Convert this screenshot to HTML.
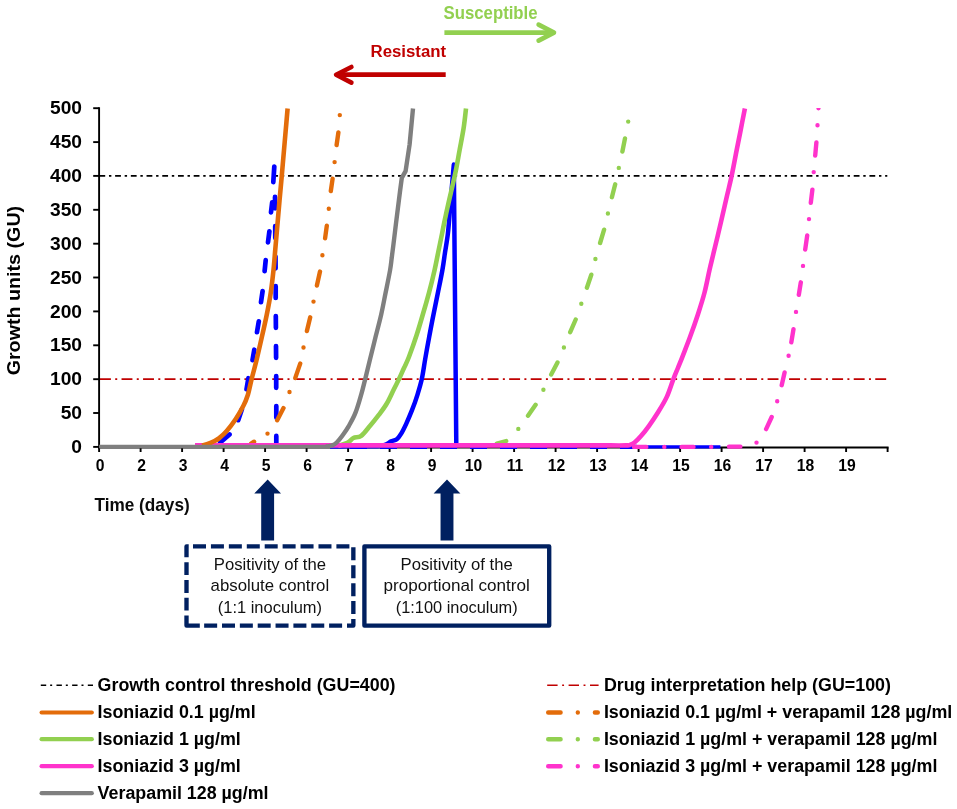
<!DOCTYPE html>
<html lang="en"><head><meta charset="utf-8"><title>Growth units over time</title>
<style>html,body{margin:0;padding:0;background:#fff}body{width:957px;height:809px;overflow:hidden}svg{display:block}text{font-family:'Liberation Sans', Arial, Helvetica, sans-serif}</style></head><body>
<svg width="957" height="809" viewBox="0 0 957 809">
<rect width="957" height="809" fill="#fff"/>
<g fill="none" stroke-linecap="round" stroke-linejoin="round">
<path d="M444.4 32.6 H553" stroke="#92d050" stroke-width="4.7" stroke-linecap="butt"/>
<path d="M538.6 24.6 L554.0 32.6 L538.6 40.6" stroke="#92d050" stroke-width="4.6"/>
<path d="M445.7 74.7 H337" stroke="#c00000" stroke-width="4.7" stroke-linecap="butt"/>
<path d="M351.4 67.0 L336.1 74.7 L351.4 82.6" stroke="#c00000" stroke-width="4.6"/>
</g>
<text x="443.5" y="19.2" font-size="17.8" font-weight="700" fill="#92d050" textLength="94.1" lengthAdjust="spacingAndGlyphs">Susceptible</text>
<text x="370.5" y="56.8" font-size="17.2" font-weight="700" fill="#c00000" textLength="75.6" lengthAdjust="spacingAndGlyphs">Resistant</text>
<path d="M99.4 175.9 H887.3" stroke="#000" stroke-width="1.9" stroke-dasharray="5.8 3.76 2.4 3.755" fill="none"/>
<path d="M100 379.2 H887.3" stroke="#c00000" stroke-width="1.7" stroke-dasharray="10.9 4.32 2.0 4.315" fill="none"/>
<g stroke="#000" stroke-width="1.9" fill="none">
<path d="M99.1 107.3 V448.4"/>
<path d="M98.3 447.5 H888.6"/>
<path d="M93.2 446.9 H99.1"/>
<path d="M93.2 413.0 H99.1"/>
<path d="M93.2 379.2 H99.1"/>
<path d="M93.2 345.3 H99.1"/>
<path d="M93.2 311.4 H99.1"/>
<path d="M93.2 277.5 H99.1"/>
<path d="M93.2 243.7 H99.1"/>
<path d="M93.2 209.8 H99.1"/>
<path d="M93.2 175.9 H99.1"/>
<path d="M93.2 142.1 H99.1"/>
<path d="M93.2 108.2 H99.1"/>
<path d="M99.1 447.5 V452"/>
<path d="M140.6 447.5 V452"/>
<path d="M182.1 447.5 V452"/>
<path d="M223.6 447.5 V452"/>
<path d="M265.1 447.5 V452"/>
<path d="M306.6 447.5 V452"/>
<path d="M348.1 447.5 V452"/>
<path d="M389.6 447.5 V452"/>
<path d="M431.1 447.5 V452"/>
<path d="M472.6 447.5 V452"/>
<path d="M514.1 447.5 V452"/>
<path d="M555.6 447.5 V452"/>
<path d="M597.1 447.5 V452"/>
<path d="M638.6 447.5 V452"/>
<path d="M680.1 447.5 V452"/>
<path d="M721.6 447.5 V452"/>
<path d="M763.1 447.5 V452"/>
<path d="M804.6 447.5 V452"/>
<path d="M846.1 447.5 V452"/>
<path d="M887.6 447.5 V452"/>
</g>
<g font-size="19.2" font-weight="700" fill="#000">
<text x="82.0" y="453.0" text-anchor="end">0</text>
<text x="82.0" y="419.2" text-anchor="end">50</text>
<text x="82.0" y="385.3" text-anchor="end">100</text>
<text x="82.0" y="351.4" text-anchor="end">150</text>
<text x="82.0" y="317.6" text-anchor="end">200</text>
<text x="82.0" y="283.7" text-anchor="end">250</text>
<text x="82.0" y="249.8" text-anchor="end">300</text>
<text x="82.0" y="216.0" text-anchor="end">350</text>
<text x="82.0" y="182.1" text-anchor="end">400</text>
<text x="82.0" y="148.2" text-anchor="end">450</text>
<text x="82.0" y="114.3" text-anchor="end">500</text>
</g>
<g font-size="15.7" font-weight="700" fill="#000">
<text x="100.0" y="471.2" text-anchor="middle">0</text>
<text x="141.5" y="471.2" text-anchor="middle">2</text>
<text x="183.0" y="471.2" text-anchor="middle">3</text>
<text x="224.5" y="471.2" text-anchor="middle">4</text>
<text x="266.0" y="471.2" text-anchor="middle">5</text>
<text x="307.5" y="471.2" text-anchor="middle">6</text>
<text x="349.0" y="471.2" text-anchor="middle">7</text>
<text x="390.5" y="471.2" text-anchor="middle">8</text>
<text x="432.0" y="471.2" text-anchor="middle">9</text>
<text x="473.5" y="471.2" text-anchor="middle">10</text>
<text x="515.0" y="471.2" text-anchor="middle">11</text>
<text x="556.5" y="471.2" text-anchor="middle">12</text>
<text x="598.0" y="471.2" text-anchor="middle">13</text>
<text x="639.5" y="471.2" text-anchor="middle">14</text>
<text x="681.0" y="471.2" text-anchor="middle">15</text>
<text x="722.5" y="471.2" text-anchor="middle">16</text>
<text x="764.0" y="471.2" text-anchor="middle">17</text>
<text x="805.5" y="471.2" text-anchor="middle">18</text>
<text x="847.0" y="471.2" text-anchor="middle">19</text>
</g>
<text transform="translate(19.9 290.6) rotate(-90)" font-size="19.2" font-weight="700" fill="#000" text-anchor="middle" textLength="169.5" lengthAdjust="spacingAndGlyphs">Growth units (GU)</text>
<text x="94.5" y="510.7" font-size="18.4" font-weight="700" fill="#0a0a0a" textLength="95.2" lengthAdjust="spacingAndGlyphs">Time (days)</text>
<path d="M350.0 446.9 h17 M380.0 446.9 h17 M410.0 446.9 h17 M440.0 446.9 h17 M470.0 446.9 h17 M500.0 446.9 h17 M530.0 446.9 h17 M560.0 446.9 h17 M590.0 446.9 h17 M620.0 446.9 h17" fill="none" stroke="#0000ff" stroke-width="4.2"/>
<path d="M220.2 442.5 L229.5 434.4 M238.2 420.2 L241.9 409.2 M246.5 389.3 L248.4 378.2 M252.5 360.1 L254.3 349.7 M257.0 332.2 L258.8 321.3 M261.0 302.2 L262.6 291.2 M264.6 271.2 L265.7 260.2 M268.0 242.3 L269.4 231.4 M271.0 212.3 L272.2 202.4 M273.3 182.2 L274.3 166.5 M275.0 196.9 L275.1 208.3 M275.2 226.2 L275.3 238.0 M275.5 256.5 L275.6 268.3 M275.7 286.2 L275.7 297.9 M275.8 316.0 L275.9 327.8 M276.0 346.0 L276.1 357.8 M276.2 376.1 L276.2 387.8 M276.3 406.1 L276.3 417.6 M276.3 435.9 L276.3 444.8" fill="none" stroke="#0000ff" stroke-width="4.7" stroke-linecap="round"/>
<path d="M631 446.9 H720.4" fill="none" stroke="#0000ff" stroke-width="3.4"/>
<path d="M330.0 446.5 C332.8 446.5 341.1 446.4 346.7 446.3 C352.2 446.3 357.8 446.2 363.3 446.2 C368.9 446.1 376.1 446.4 380.0 446.0 C383.9 445.6 384.9 444.8 386.8 444.0 C388.7 443.2 389.5 442.2 391.2 441.4 C392.9 440.6 395.1 440.5 396.8 439.2 C398.5 437.9 399.6 436.2 401.2 433.6 C402.8 431.0 404.5 427.5 406.3 423.6 C408.1 419.7 410.1 415.0 412.0 410.2 C413.9 405.4 415.9 399.8 417.5 394.6 C419.1 389.4 420.5 385.0 421.8 379.1 C423.1 373.2 424.0 366.1 425.2 359.0 C426.4 351.9 427.8 344.2 429.2 336.8 C430.6 329.4 432.0 321.9 433.5 314.5 C435.0 307.1 436.5 299.7 438.0 292.3 C439.5 284.9 441.2 276.8 442.4 270.0 C443.6 263.2 444.2 257.9 445.1 251.8 C446.1 245.7 447.1 240.5 447.9 233.6 C448.7 226.7 449.2 218.3 449.9 210.6 C450.5 202.9 451.2 195.3 451.8 187.6 C452.5 179.9 453.5 168.4 453.8 164.6 L456.3 446" fill="none" stroke="#0000ff" stroke-width="4.5" stroke-linejoin="round" stroke-linecap="butt"/>
<clipPath id="plot"><rect x="90" y="108" width="810" height="345"/></clipPath>
<path clip-path="url(#plot)" d="M251.1 443.7 L254.1 441.7 M277.2 420.2 L283.5 408.1 M295.3 377.9 L300.2 363.6 M306.9 331.1 L310.2 317.3 M316.9 285.5 L320.0 271.6 M325.1 238.3 L326.8 225.8 M330.8 191.1 L332.6 178.7 M336.6 145.1 L338.4 132.4 M267.5 433.6 h0.01 M289.5 392.0 h0.01 M303.5 347.5 h0.01 M313.5 301.6 h0.01 M322.4 255.3 h0.01 M328.8 208.8 h0.01 M334.6 162.1 h0.01 M339.8 115.1 h0.01" fill="none" stroke="#e36c0a" stroke-width="4.4" stroke-linecap="round"/>
<path clip-path="url(#plot)" d="M496.8 443.6 L506.2 441.0 M528.0 415.7 L535.6 404.8 M551.2 374.5 L557.5 362.5 M570.2 332.2 L575.7 319.5 M586.9 287.7 L591.3 274.7 M600.1 243.0 L604.1 229.7 M611.9 197.2 L615.2 184.3 M622.4 151.5 L625.0 138.4 M518.3 428.9 h0.01 M543.4 389.8 h0.01 M563.9 347.5 h0.01 M581.3 303.8 h0.01 M595.4 259.0 h0.01 M607.9 213.5 h0.01 M618.8 167.9 h0.01 M628.2 121.6 h0.01" fill="none" stroke="#92d050" stroke-width="4.4" stroke-linecap="round"/>
<path clip-path="url(#plot)" d="M634.0 446.9 L646.3 446.9 M681.6 446.9 L693.5 446.9 M729.0 446.6 L740.4 446.6 M766.1 429.1 L771.7 417.0 M781.7 385.2 L784.6 372.5 M791.3 342.3 L793.5 329.1 M798.8 294.8 L800.8 282.3 M805.2 249.5 L807.2 235.5 M810.8 202.7 L812.4 189.6 M815.2 155.6 L816.4 142.4 M818.5 108.2 L818.8 102.1 M664.3 446.9 h0.01 M711.2 446.9 h0.01 M756.5 442.6 h0.01 M777.2 401.3 h0.01 M788.6 355.7 h0.01 M796.0 311.9 h0.01 M803.0 265.9 h0.01 M809.0 219.1 h0.01 M813.7 172.1 h0.01 M817.5 125.2 h0.01" fill="none" stroke="#ff33cc" stroke-width="4.4" stroke-linecap="round"/>
<path d="M338.0 446.0 C339.6 445.4 345.2 443.8 347.8 442.5 C350.4 441.2 351.2 439.1 353.4 438.0 C355.6 436.9 358.4 437.8 361.2 435.8 C364.0 433.8 367.1 429.3 370.1 425.8 C373.1 422.3 376.2 418.4 379.0 414.7 C381.8 411.0 384.4 407.6 386.8 403.5 C389.2 399.4 391.4 394.3 393.4 390.2 C395.4 386.1 397.2 382.8 399.0 379.1 C400.8 375.4 402.3 371.7 404.0 368.0 C405.7 364.2 406.9 362.4 409.0 356.8 C411.1 351.2 414.5 341.6 416.8 334.5 C419.1 327.4 420.8 321.5 422.8 314.5 C424.9 307.5 427.1 299.7 429.1 292.3 C431.1 284.9 433.1 276.7 434.6 270.0 C436.1 263.3 437.1 258.0 438.3 251.9 C439.5 245.9 440.8 239.9 442.0 233.9 C443.2 227.8 444.2 222.5 445.7 215.8 C447.1 209.1 449.0 200.9 450.7 193.5 C452.4 186.1 454.2 178.4 455.7 171.2 C457.2 164.0 458.3 157.1 459.6 150.1 C460.9 143.0 462.4 135.8 463.5 128.9 C464.6 122.0 465.6 111.9 466.0 108.5" fill="none" stroke="#92d050" stroke-width="4.6" stroke-linejoin="round"/>
<path d="M195.0 445.4 C199.0 445.4 211.0 445.4 218.9 445.4 C226.9 445.4 234.9 445.4 242.9 445.4 C250.9 445.4 258.9 445.4 266.8 445.4 C274.8 445.4 282.8 445.4 290.8 445.4 C298.8 445.4 306.7 445.4 314.7 445.4 C322.7 445.4 330.7 445.4 338.7 445.4 C346.6 445.4 354.6 445.4 362.6 445.4 C370.6 445.4 378.6 445.4 386.6 445.4 C394.5 445.4 402.5 445.4 410.5 445.4 C418.5 445.4 426.5 445.4 434.4 445.4 C442.4 445.4 450.4 445.4 458.4 445.4 C466.4 445.4 474.4 445.4 482.3 445.4 C490.3 445.4 498.3 445.4 506.3 445.4 C514.3 445.4 522.2 445.4 530.2 445.4 C538.2 445.4 546.2 445.4 554.2 445.4 C562.1 445.4 570.1 445.4 578.1 445.4 C586.1 445.4 594.1 445.4 602.1 445.4 C610.0 445.4 621.3 445.5 626.0 445.4 C630.7 445.3 628.6 445.3 630.0 444.8 C631.4 444.3 632.6 444.0 634.5 442.5 C636.4 441.0 638.8 438.6 641.2 435.8 C643.6 433.0 646.2 429.7 649.0 425.8 C651.8 421.9 654.9 417.3 657.9 412.5 C660.9 407.7 664.2 402.5 666.8 396.9 C669.4 391.3 671.5 383.9 673.4 379.1 C675.2 374.3 676.4 371.7 677.9 368.0 C679.4 364.2 680.4 362.0 682.4 356.8 C684.4 351.6 687.5 343.9 690.1 336.8 C692.7 329.8 695.5 321.9 697.9 314.5 C700.3 307.1 702.7 299.7 704.6 292.3 C706.5 284.9 708.0 276.6 709.5 270.0 C711.0 263.4 712.3 258.5 713.6 252.8 C715.0 247.0 716.3 241.7 717.8 235.5 C719.3 229.3 720.9 222.3 722.4 215.7 C723.9 209.1 725.5 202.4 727.0 195.8 C728.5 189.2 730.1 183.1 731.6 176.0 C733.1 168.9 734.6 161.0 736.0 153.5 C737.5 146.0 739.0 138.5 740.5 131.0 C741.9 123.5 744.2 112.2 744.9 108.5" fill="none" stroke="#ff33cc" stroke-width="4.6" stroke-linejoin="round"/>
<path d="M202.0 445.6 C202.8 445.4 205.1 444.9 207.0 444.2 C208.9 443.5 211.4 442.5 213.4 441.5 C215.4 440.5 216.7 440.2 218.9 438.4 C221.1 436.6 223.9 434.1 226.7 430.9 C229.5 427.7 232.8 423.4 235.6 419.2 C238.4 415.0 241.3 409.9 243.4 405.8 C245.5 401.7 246.5 399.1 247.9 394.7 C249.3 390.2 250.1 385.1 251.6 379.1 C253.1 373.2 255.1 366.1 256.8 359.0 C258.5 351.9 260.2 344.2 261.9 336.8 C263.6 329.4 265.3 321.9 266.8 314.5 C268.3 307.1 269.7 299.7 270.8 292.3 C271.9 284.9 272.7 277.6 273.5 270.0 C274.3 262.4 274.8 254.6 275.5 246.9 C276.2 239.2 276.9 231.5 277.5 223.9 C278.2 216.2 278.9 208.5 279.5 200.8 C280.2 193.1 280.9 185.4 281.6 177.7 C282.2 170.0 282.9 162.3 283.6 154.6 C284.2 147.0 284.9 139.3 285.6 131.6 C286.3 123.9 287.3 112.3 287.6 108.5" fill="none" stroke="#e36c0a" stroke-width="4.6" stroke-linejoin="round"/>
<path d="M99.1 446.5 H330" fill="none" stroke="#7f7f7f" stroke-width="3.7"/>
<path d="M326.0 446.5 C327.0 446.3 330.4 446.1 332.2 445.4 C334.0 444.7 335.0 444.1 336.7 442.5 C338.4 440.9 340.3 438.6 342.3 435.8 C344.3 433.0 346.7 429.7 348.9 425.8 C351.1 421.9 353.6 417.6 355.6 412.4 C357.7 407.2 359.6 400.2 361.2 394.6 C362.8 389.1 363.7 385.0 365.2 379.1 C366.7 373.2 368.4 366.1 370.1 359.0 C371.8 351.9 373.8 344.2 375.6 336.8 C377.5 329.4 379.5 321.9 381.2 314.5 C382.9 307.1 384.2 299.7 385.7 292.3 C387.2 284.9 389.1 275.8 390.1 270.0 C391.1 264.2 391.2 261.6 391.8 257.4 C392.3 253.1 392.7 250.5 393.4 244.7 C394.1 238.9 395.2 229.9 396.1 222.4 C397.1 215.0 398.0 207.6 398.9 200.2 C399.8 192.8 401.3 181.6 401.8 177.9 L405.6 171.2 L409.6 144.5 L413.0 108.5" fill="none" stroke="#7f7f7f" stroke-width="4.4" stroke-linejoin="round"/>
<path d="M267.65 479.4 L281.05 493.5 H274.10 V540.4 H261.20 V493.5 H254.25 Z" fill="#002060"/>
<path d="M447.00 479.4 L460.40 493.5 H453.45 V540.4 H440.55 V493.5 H433.60 Z" fill="#002060"/>
<path d="M186.50 557.2 V546.40 H188.7 M193.00 546.40 h13 M210.93 546.40 h13 M228.85 546.40 h13 M246.78 546.40 h13 M264.70 546.40 h13 M282.62 546.40 h13 M300.55 546.40 h13 M318.48 546.40 h13 M336.40 546.40 h13 M353.35 547.30 v13 M353.35 565.22 v13 M353.35 583.14 v13 M353.35 601.06 v13 M353.35 619 V625.55 H347 M342.10 625.55 h-13 M324.25 625.55 h-13 M306.40 625.55 h-13 M288.55 625.55 h-13 M270.70 625.55 h-13 M252.85 625.55 h-13 M235.00 625.55 h-13 M217.15 625.55 h-13 M199.8 625.55 H186.50 V615.5 M186.50 610.60 v-12.9 M186.50 593.00 v-12.9 M186.50 575.10 v-12.9" fill="none" stroke="#002060" stroke-width="4.35" stroke-linejoin="round"/>
<rect x="364.4" y="546.4" width="184.8" height="79.2" fill="none" stroke="#002060" stroke-width="4.35" stroke-linejoin="round"/>
<g font-size="15.7" fill="#111" text-anchor="middle">
<text x="269.9" y="569.8" textLength="112.2" lengthAdjust="spacingAndGlyphs">Positivity of the</text>
<text x="269.9" y="591.3" textLength="118.6" lengthAdjust="spacingAndGlyphs">absolute control</text>
<text x="269.9" y="612.9" textLength="104.3" lengthAdjust="spacingAndGlyphs">(1:1 inoculum)</text>
<text x="456.7" y="569.8" textLength="112.2" lengthAdjust="spacingAndGlyphs">Positivity of the</text>
<text x="456.7" y="591.3" textLength="146.3" lengthAdjust="spacingAndGlyphs">proportional control</text>
<text x="456.7" y="612.9" textLength="122.0" lengthAdjust="spacingAndGlyphs">(1:100 inoculum)</text>
</g>
<g fill="none" stroke-linecap="round">
<path d="M40.8 685.2 H93" stroke="#000" stroke-width="1.35" stroke-dasharray="5.4 3.95 2.0 4.32" stroke-linecap="butt"/>
<path d="M41.6 712.5 H91.8" stroke="#e36c0a" stroke-width="4.2"/>
<path d="M41.6 739.2 H91.8" stroke="#92d050" stroke-width="4.2"/>
<path d="M41.6 766.2 H91.8" stroke="#ff33cc" stroke-width="4.2"/>
<path d="M41.6 793.2 H91.8" stroke="#7f7f7f" stroke-width="4.2"/>
<path d="M547.2 685.2 H598.6" stroke="#c00000" stroke-width="1.45" stroke-dasharray="10.4 4.55 1.9 4.55" stroke-linecap="butt"/>
<path d="M548.2 712.5 H560.6 M577.8 712.5 h0.01 M594.9 712.5 H597.8" stroke="#e36c0a" stroke-width="4.4"/>
<path d="M548.2 739.2 H560.6 M577.8 739.2 h0.01 M594.9 739.2 H597.8" stroke="#92d050" stroke-width="4.4"/>
<path d="M548.2 766.2 H560.6 M577.8 766.2 h0.01 M594.9 766.2 H597.8" stroke="#ff33cc" stroke-width="4.4"/>
</g>
<g font-size="17.85" font-weight="700" fill="#000">
<text x="97.6" y="691.1">Growth control threshold (GU=400)</text>
<text x="97.6" y="718.1">Isoniazid 0.1 µg/ml</text>
<text x="97.6" y="745.0">Isoniazid 1 µg/ml</text>
<text x="97.6" y="771.8">Isoniazid 3 µg/ml</text>
<text x="97.6" y="798.6">Verapamil 128 µg/ml</text>
<text x="603.9" y="691.1">Drug interpretation help (GU=100)</text>
<text x="603.9" y="718.1">Isoniazid 0.1 µg/ml + verapamil 128 µg/ml</text>
<text x="603.9" y="745.0">Isoniazid 1 µg/ml + verapamil 128 µg/ml</text>
<text x="603.9" y="771.8">Isoniazid 3 µg/ml + verapamil 128 µg/ml</text>
</g>
</svg></body></html>
